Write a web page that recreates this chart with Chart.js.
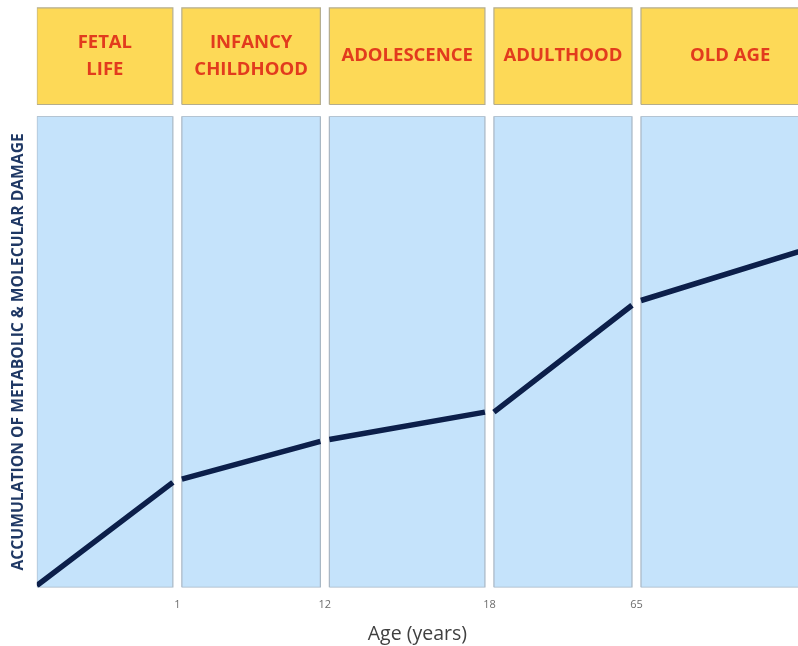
<!DOCTYPE html>
<html>
<head>
<meta charset="utf-8">
<title>Accumulation of metabolic & molecular damage by age</title>
<script src="https://cdn.jsdelivr.net/npm/chart.js@4.4.1/dist/chart.umd.min.js"></script>
<style>
  html, body { margin: 0; padding: 0; background: #fff; }
  #wrap { width: 798px; height: 646px; }
</style>
</head>
<body>
<div id="wrap"><canvas id="damageChart"></canvas></div>
<script>
// life stages, left to right (each entry = lines of the header)
const stages = [['FETAL', 'LIFE'], ['INFANCY', 'CHILDHOOD'], ['ADOLESCENCE'], ['ADULTHOOD'], ['OLD AGE']];
// stage boundaries on the (non-linear) age axis, 0-100
const stageBounds = [-0.59, 18.46, 37.84, 59.46, 78.78, 103.4];
// age labels at the inner boundaries
const ageTicks = ['1', '12', '18', '65'];
// damage level at start / end of each stage (0 = none, 100 = top of panel)
const damageStart = [0.4, 23.0, 31.4, 37.2, 60.9];
const damageEnd = [22.3, 31.0, 37.2, 59.9, 72.6];

const panelTop = 100;
const headerBottom = 102.5;
const headerTop = 123;
const gap = 0.59;   // half of the white gap between panels

const linePts = [], panelFill = [], panelEdge = [], headFill = [], headEdge = [];
stages.forEach((s, i) => {
  const x0 = stageBounds[i] + gap;
  const x1 = stageBounds[i + 1] - gap;
  linePts.push({x: x0, y: damageStart[i]}, {x: x1, y: damageEnd[i]}, {x: x1, y: null});
  panelFill.push({x: x0, y: panelTop}, {x: x1, y: panelTop}, {x: x1, y: null});
  panelEdge.push({x: x0, y: 0}, {x: x0, y: panelTop}, {x: x1, y: panelTop}, {x: x1, y: 0}, {x: x0, y: 0}, {x: x1, y: null});
  headFill.push({x: x0, y: headerTop}, {x: x1, y: headerTop}, {x: x1, y: null});
  headEdge.push({x: x0, y: headerBottom}, {x: x0, y: headerTop}, {x: x1, y: headerTop}, {x: x1, y: headerBottom}, {x: x0, y: headerBottom}, {x: x1, y: null});
});

// stage names inside the yellow boxes
const headerText = {
  id: 'headerText',
  afterDatasetsDraw(chart) {
    const {ctx, scales: {x, yHead}} = chart;
    const cy = yHead.getPixelForValue((headerBottom + headerTop) / 2);
    ctx.save();
    ctx.font = 'bold 18.5px "Open Sans"';
    ctx.fillStyle = '#e23b1d';
    ctx.textAlign = 'center';
    ctx.textBaseline = 'middle';
    stages.forEach((lines, i) => {
      const cx = (x.getPixelForValue(stageBounds[i] + gap) + x.getPixelForValue(stageBounds[i + 1] - gap)) / 2;
      lines.forEach((t, j) => {
        ctx.fillText(t, cx, cy + (j - (lines.length - 1) / 2) * 26.5);
      });
    });
    ctx.restore();
  }
};

const ctx = document.getElementById('damageChart').getContext('2d');

new Chart(ctx, {
  type: 'line',
  data: {
    datasets: [
      {
        label: 'Damage',
        data: linePts,
        yAxisID: 'y',
        borderColor: '#0c1f4a',
        borderWidth: 5.5,
        borderCapStyle: 'butt',
        pointRadius: 0,
        fill: false,
        order: 0
      },
      {
        data: panelEdge,
        yAxisID: 'y',
        borderColor: '#a7b6c4',
        borderWidth: 1.2,
        pointRadius: 0,
        fill: false,
        order: 1
      },
      {
        data: panelFill,
        yAxisID: 'y',
        borderWidth: 0,
        backgroundColor: '#c5e3fb',
        pointRadius: 0,
        fill: 'origin',
        order: 2
      },
      {
        data: headEdge,
        yAxisID: 'yHead',
        borderColor: '#b5ad8c',
        borderWidth: 1.2,
        pointRadius: 0,
        fill: false,
        order: 3
      },
      {
        data: headFill,
        yAxisID: 'yHead',
        borderWidth: 0,
        backgroundColor: '#fdd957',
        pointRadius: 0,
        fill: {value: headerBottom},
        order: 4
      }
    ]
  },
  options: {
    responsive: true,
    maintainAspectRatio: false,
    animation: false,
    layout: { padding: { left: 5, top: 7, right: 0, bottom: 0 } },
    plugins: {
      legend: { display: false },
      tooltip: { enabled: false }
    },
    scales: {
      x: {
        type: 'linear',
        min: 0,
        max: 100,
        grid: { display: false, drawTicks: false },
        border: { display: false },
        afterBuildTicks: (scale) => {
          scale.ticks = stageBounds.slice(1, -1).map(v => ({ value: v }));
        },
        ticks: {
          autoSkip: false,
          maxRotation: 0,
          padding: 11,
          color: '#6d6d6d',
          font: { family: 'Open Sans', size: 11 },
          callback: (v, i) => ageTicks[i]
        },
        title: {
          display: true,
          text: 'Age (years)',
          color: '#404040',
          font: { family: 'Open Sans', size: 19.5 },
          padding: { top: 0, bottom: 0 }
        }
      },
      y: {
        type: 'linear',
        position: 'left',
        stack: 'left',
        stackWeight: 100,
        weight: 0,
        min: 0,
        max: 100,
        grid: { display: false, drawTicks: false },
        border: { display: false },
        ticks: { display: false },
        title: {
          display: true,
          text: 'ACCUMULATION OF METABOLIC & MOLECULAR DAMAGE',
          color: '#1f3864',
          font: { family: 'Open Sans', size: 15.7, weight: 'bold' },
          padding: { top: 4, bottom: 9 }
        }
      },
      yHead: {
        type: 'linear',
        position: 'left',
        stack: 'left',
        stackWeight: 23.2,
        weight: 1,
        min: 100,
        max: 123.2,
        display: false
      }
    }
  },
  plugins: [headerText]
});
</script>
</body>
</html>
